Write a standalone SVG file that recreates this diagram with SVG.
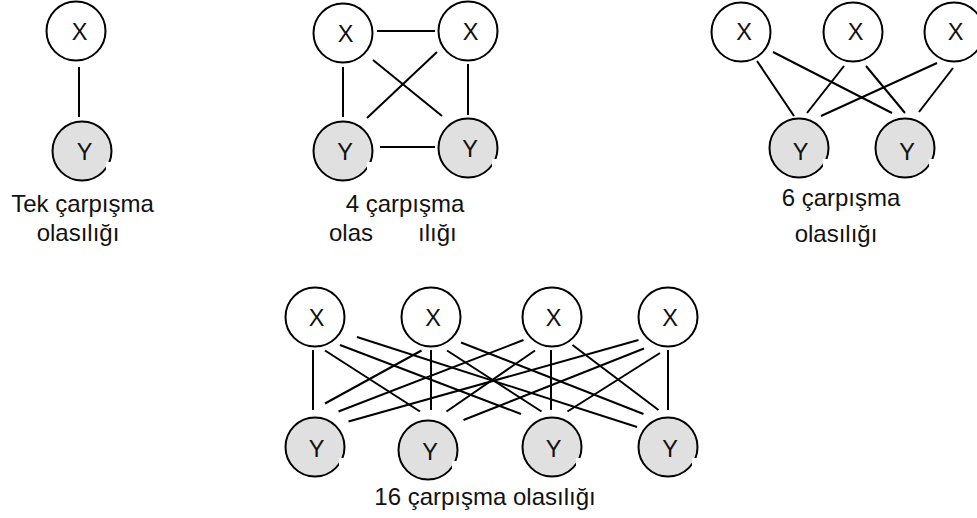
<svg xmlns="http://www.w3.org/2000/svg" width="977" height="518" viewBox="0 0 977 518">
<style>
.x{fill:#fff;stroke:#000;stroke-width:2}
.y{fill:#e0e0e0;stroke:#000;stroke-width:2}
.n{fill:#fff;stroke:none}
.lt{font-family:"Liberation Sans",Arial,sans-serif;font-size:23.5px;fill:#111;text-anchor:middle}
.lb{font-family:"Liberation Sans",Arial,sans-serif;font-size:24px;fill:#111}
.c{text-anchor:middle}
#edges line{stroke:#000;stroke-width:2}
</style>
<rect width="977" height="518" fill="#fff"/>
<g id="edges">
<line x1="79" y1="67" x2="79" y2="117"/>
<line x1="377" y1="31" x2="435" y2="31"/>
<line x1="343" y1="67" x2="343" y2="117"/>
<line x1="468" y1="64" x2="468" y2="115"/>
<line x1="380" y1="147" x2="435" y2="147"/>
<line x1="373" y1="60" x2="442" y2="116"/>
<line x1="437" y1="52" x2="367" y2="118"/>
<line x1="757" y1="61" x2="794" y2="116"/>
<line x1="773" y1="52" x2="892" y2="113"/>
<line x1="844" y1="66" x2="807" y2="113"/>
<line x1="866" y1="66" x2="905" y2="113"/>
<line x1="937" y1="63" x2="821" y2="116"/>
<line x1="953" y1="68" x2="919" y2="112"/>
<line x1="313" y1="350" x2="313" y2="410"/>
<line x1="325" y1="350.5" x2="420" y2="411.5"/>
<line x1="340" y1="345" x2="521" y2="414"/>
<line x1="357" y1="337" x2="637" y2="427"/>
<line x1="421.5" y1="350.5" x2="325" y2="403.5"/>
<line x1="431" y1="350" x2="431" y2="410"/>
<line x1="447" y1="350.5" x2="541.5" y2="411.5"/>
<line x1="461" y1="342.5" x2="643.5" y2="414"/>
<line x1="523.5" y1="340" x2="338.5" y2="411.5"/>
<line x1="535" y1="350.5" x2="446.5" y2="411.5"/>
<line x1="551" y1="350" x2="551" y2="410"/>
<line x1="572.5" y1="345" x2="658.5" y2="410"/>
<line x1="638.5" y1="340" x2="348.5" y2="421.5"/>
<line x1="644" y1="348.5" x2="463.5" y2="420"/>
<line x1="660" y1="353" x2="567.5" y2="411.5"/>
<line x1="668" y1="350" x2="668" y2="410"/>
</g>
<g id="p1-x"><circle class="x" cx="76" cy="31" r="29.5"/><text class="lt" x="79.5" y="39.5">X</text></g>
<g id="p1-y"><circle class="y" cx="82" cy="151" r="29.5"/><rect class="n" x="106" y="162" width="9" height="8"/><text class="lt" x="84.5" y="160">Y</text></g>
<g id="p2-x1"><circle class="x" cx="343" cy="33" r="29.5"/><text class="lt" x="345.5" y="42">X</text></g>
<g id="p2-x2"><circle class="x" cx="468" cy="31" r="29.5"/><text class="lt" x="470.5" y="40">X</text></g>
<g id="p2-y1"><circle class="y" cx="343" cy="151" r="29.5"/><rect class="n" x="367" y="162" width="9" height="8"/><text class="lt" x="345" y="160">Y</text></g>
<g id="p2-y2"><circle class="y" cx="468" cy="148" r="29.5"/><rect class="n" x="492" y="159" width="9" height="8"/><text class="lt" x="470" y="157">Y</text></g>
<g id="p3-x1"><circle class="x" cx="741" cy="32" r="29.5"/><text class="lt" x="744" y="40">X</text></g>
<g id="p3-x2"><circle class="x" cx="853" cy="32" r="29.5"/><text class="lt" x="855.5" y="40">X</text></g>
<g id="p3-x3"><circle class="x" cx="954" cy="32" r="29.5"/><text class="lt" x="955.5" y="40">X</text></g>
<g id="p3-y1"><circle class="y" cx="799" cy="148" r="29.5"/><rect class="n" x="823" y="159" width="9" height="8"/><text class="lt" x="800.5" y="160">Y</text></g>
<g id="p3-y2"><circle class="y" cx="905" cy="148" r="29.5"/><rect class="n" x="929" y="159" width="9" height="8"/><text class="lt" x="907" y="160">Y</text></g>
<g id="p4-x1"><circle class="x" cx="315" cy="317" r="29.5"/><text class="lt" x="316.5" y="326">X</text></g>
<g id="p4-x2"><circle class="x" cx="431" cy="317" r="29.5"/><text class="lt" x="433" y="326">X</text></g>
<g id="p4-x3"><circle class="x" cx="552" cy="317" r="29.5"/><text class="lt" x="553.5" y="326">X</text></g>
<g id="p4-x4"><circle class="x" cx="668" cy="317" r="29.5"/><text class="lt" x="670" y="326">X</text></g>
<g id="p4-y1"><circle class="y" cx="315" cy="447" r="29.5"/><rect class="n" x="339" y="458" width="9" height="8"/><text class="lt" x="316.5" y="457">Y</text></g>
<g id="p4-y2"><circle class="y" cx="428" cy="450" r="29.5"/><rect class="n" x="452" y="461" width="9" height="8"/><text class="lt" x="430" y="460">Y</text></g>
<g id="p4-y3"><circle class="y" cx="552" cy="447" r="29.5"/><rect class="n" x="576" y="458" width="9" height="8"/><text class="lt" x="553.5" y="457">Y</text></g>
<g id="p4-y4"><circle class="y" cx="668" cy="447" r="29.5"/><rect class="n" x="692" y="458" width="9" height="8"/><text class="lt" x="670" y="457">Y</text></g>
<g id="labels">
<text class="lb c" x="82.5" y="212">Tek çarpışma</text>
<text class="lb c" x="78" y="241">olasılığı</text>
<text class="lb c" x="405" y="212">4 çarpışma</text>
<text class="lb" x="329" y="241">olas</text>
<text class="lb" x="418" y="241">ılığı</text>
<text class="lb c" x="841" y="206">6 çarpışma</text>
<text class="lb c" x="836" y="242">olasılığı</text>
<text class="lb c" x="485" y="505">16 çarpışma olasılığı</text>
</g>
</svg>
